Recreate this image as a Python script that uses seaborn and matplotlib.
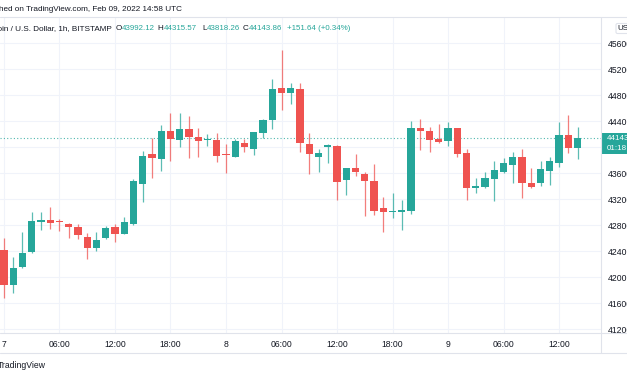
import pandas as pd
import seaborn as sns
import matplotlib.pyplot as plt
import matplotlib.dates as mdates
from matplotlib.patches import Rectangle, FancyBboxPatch

# hourly BTC/USD candles, Feb 7 00:00 -> Feb 9 14:00
opens = [42420, 41877, 42163, 42394, 42846, 42877, 42855, 42815, 42769, 42625,
         42455, 42600, 42769, 42671, 42815, 43435, 43897, 43815, 44246, 44108,
         44286, 44163, 44112, 44112, 43902, 43855, 44071, 43969, 44215, 44415,
         44917, 44840, 44897, 44046, 43855, 44009, 44025, 43497, 43677, 43589,
         43486, 43062, 43000, 43005, 43025, 44292, 44255, 44123, 44102, 44292,
         43917, 43378, 43394, 43508, 43625, 43728, 43855, 43446, 43455, 43640,
         43763, 44189, 43992.12]
highs = [42600, 42308, 42692, 43000, 43000, 43077, 42897, 42831, 42815, 42677,
         42692, 42794, 42820, 42923, 43512, 43943, 44148, 44343, 44532, 44532,
         44482, 44292, 44205, 44225, 44051, 44132, 44132, 44240, 44430, 45046,
         45497, 44985, 44985, 44215, 43974, 44046, 44030, 43680, 43892, 43620,
         43743, 43231, 43302, 43189, 44405, 44431, 44317, 44358, 44385, 44300,
         43974, 43523, 43625, 43789, 43840, 43923, 43974, 43686, 43789, 43855,
         44394, 44497, 44315.57]
lows = [41686, 41763, 42150, 42380, 42728, 42743, 42717, 42600, 42585, 42282,
        42409, 42590, 42543, 42660, 42800, 43154, 43532, 43640, 43794, 44000,
        43835, 43855, 44020, 43778, 43600, 43850, 43923, 43882, 44138, 44277,
        44574, 44662, 43932, 43589, 43615, 43763, 43189, 43266, 43563, 42948,
        42958, 42692, 42908, 42728, 42974, 43958, 43932, 44070, 44025, 43855,
        43189, 43302, 43369, 43174, 43600, 43455, 43225, 43369, 43405, 43420,
        43692, 43917, 43818.26]
closes = [41877, 42138, 42369, 42866, 42877, 42840, 42846, 42778, 42646, 42455,
          42574, 42763, 42671, 42846, 43486, 43871, 43831, 44255, 44123, 44286,
          44154, 44097, 44128, 43866, 43882, 44092, 44000, 44231, 44420, 44897,
          44840, 44917, 44062, 43892, 43908, 44035, 43471, 43677, 43625, 43482,
          43025, 43000, 43020, 43031, 44297, 44251, 44112, 44077, 44292, 43897,
          43378, 43400, 43523, 43651, 43754, 43855, 43446, 43394, 43666, 43789,
          44189, 43985, 44143.86]
last_price = 44143.86
y_ticks = list(range(41200, 45601, 400))
x_labels = ['7', '06:00', '12:00', '18:00', '8', '06:00', '12:00', '18:00', '9', '06:00', '12:00']

GREEN = '#26a69a'
RED = '#ef5350'
TEXT = '#131722'
GRID = '#f0f3fa'
BORDER = '#e0e3eb'

sns.set_theme(style='white')
plt.rcParams['font.family'] = ['Liberation Sans', 'DejaVu Sans']

times = pd.date_range('2022-02-07 00:00', periods=len(opens), freq='h')
df = pd.DataFrame({'time': mdates.date2num(times), 'open': opens, 'high': highs,
                   'low': lows, 'close': closes})
df['color'] = [GREEN if c >= o else RED for o, c in zip(df['open'], df['close'])]
df['body_lo'] = df[['open', 'close']].min(axis=1)
df['body_h'] = (df['open'] - df['close']).abs().clip(lower=16)

W, H = 627, 376
fig = plt.figure(figsize=(W / 100, H / 100), dpi=100)
ax = fig.add_axes([0, 1 - 333 / H, 601 / W, (333 - 17.3) / H])

hour = 1 / 24
t0 = df['time'].iloc[0]
ax.vlines(df['time'], df['low'], df['high'], colors=df['color'], lw=0.9, alpha=0.75, zorder=2)
ax.bar(df['time'], df['body_h'], bottom=df['body_lo'], width=0.78 * hour,
       color=df['color'], linewidth=0, zorder=3)
ax.axhline(last_price, color=GREEN, lw=0.8, ls=(0, (1, 2)), alpha=0.8, zorder=1)

ax.set_xlim(t0 - 0.432 * hour, t0 + 64.54 * hour)
ax.set_ylim(41143, 46000)
x_ticks = mdates.date2num(pd.date_range('2022-02-07 00:00', periods=len(x_labels), freq='6h'))
ax.set_xticks(x_ticks)
ax.set_xticklabels(x_labels)
ax.set_yticks(y_ticks)
ax.set_yticklabels([str(v) for v in y_ticks])
ax.yaxis.tick_right()
ax.tick_params(axis='both', length=0, labelsize=6.2, labelcolor=TEXT)
ax.tick_params(axis='y', pad=4.8)
ax.tick_params(axis='x', pad=5)
ax.grid(True, color=GRID, lw=0.8)
ax.set_axisbelow(True)
for s in ax.spines.values():
    s.set_visible(False)

# overlay in pixel coordinates for header, borders and labels
ov = fig.add_axes([0, 0, 1, 1])
ov.set_xlim(0, W)
ov.set_ylim(H, 0)
ov.axis('off')
ov.patch.set_visible(False)

ov.plot([0, W], [17.3, 17.3], color=BORDER, lw=0.8)
ov.plot([0, W], [333, 333], color=BORDER, lw=0.8)
ov.plot([0, W], [352.5, 352.5], color=BORDER, lw=0.8)
ov.plot([601, 601], [17.3, 352.5], color=BORDER, lw=0.8)

ov.add_patch(Rectangle((601.5, 132.7), 30, 21.3, color=GREEN, lw=0))
ov.text(607, 138.5, f'{last_price:.2f}', color='white', fontsize=5.8, va='center')
ov.text(607, 148.6, '01:18', color='white', fontsize=5.8, va='center')

ov.add_patch(FancyBboxPatch((616, 23.5), 14, 10, boxstyle='round,pad=0,rounding_size=1.5',
                            fc='white', ec=BORDER, lw=0.8))
ov.text(617.5, 28.6, 'USD', color=TEXT, fontsize=5.8, va='center')

ov.text(182, 9.3, 'Published on TradingView.com, Feb 09, 2022 14:58 UTC',
        ha='right', va='center', fontsize=5.9, color=TEXT)
ov.text(111.7, 28.3, 'Bitcoin / U.S. Dollar, 1h, BITSTAMP', ha='right', va='center',
        fontsize=5.9, color=TEXT)
for x, k, v in [(122.2, 'O', '43992.12'), (163.5, 'H', '44315.57'),
                (207.3, 'L', '43818.26'), (248.5, 'C', '44143.86')]:
    ov.text(x - 0.6, 28.3, k, ha='right', va='center', fontsize=5.9, color=TEXT)
    ov.text(x, 28.3, v, va='center', fontsize=5.7, color=GREEN)
ov.text(287.3, 28.3, '+151.64 (+0.34%)', va='center', fontsize=5.7, color=GREEN)

ov.text(46, 366, 'TradingView', ha='right', va='center', fontsize=6.2, color=TEXT)

fig.savefig('out.png', dpi=100)
